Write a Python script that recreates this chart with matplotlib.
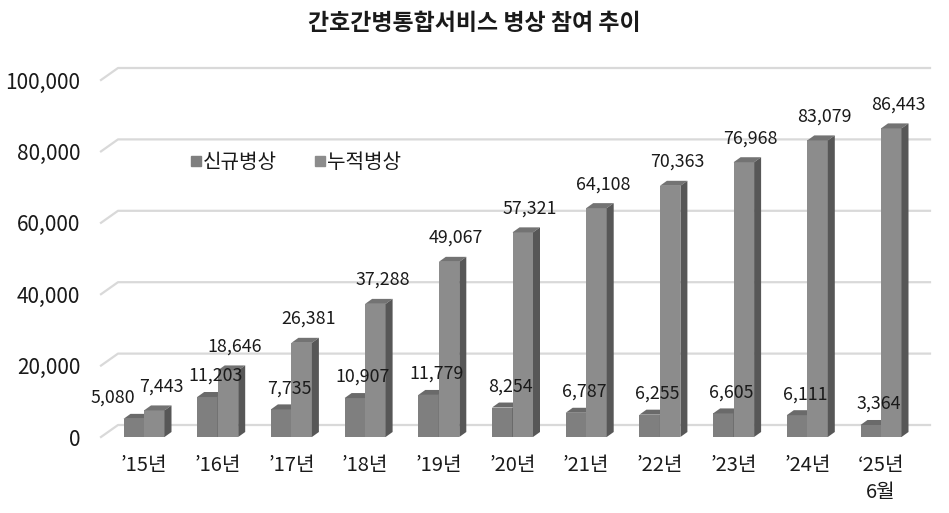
import matplotlib
matplotlib.use("Agg")
import matplotlib.pyplot as plt
from matplotlib.patches import Polygon
from matplotlib.lines import Line2D

# ---------------- data ----------------
categories = ["’15년", "’16년", "’17년", "’18년", "’19년", "’20년",
              "’21년", "’22년", "’23년", "’24년", "‘25년\n6월"]
new_beds = [5080, 11203, 7735, 10907, 11779, 8254, 6787, 6255, 6605, 6111, 3364]
cum_beds = [7443, 18646, 26381, 37288, 49067, 57321, 64108, 70363, 76968, 83079, 86443]
series_names = ["신규병상", "누적병상"]
yticks = [0, 20000, 40000, 60000, 80000, 100000]
title = "간호간병통합서비스 병상 참여 추이"

# ---------------- style ----------------
FONT = ["Noto Sans CJK KR", "DejaVu Sans"]
plt.rcParams["font.family"] = FONT
TXT = "#1a1a1a"
front_cols = ["#7f7f7f", "#8c8c8c"]
top_cols = ["#6a6a6a", "#737373"]
side_col = "#575757"
grid_col = "#d9d9d9"

W, H = 949, 513
fig = plt.figure(figsize=(W / 100, H / 100), dpi=100)

# pixel layout of the front plane
px_left, px_right = 101, 913
px_top, px_bottom = 80, 437
step = 73.7          # px between categories
first_center = 144   # px of first category centre

ax = fig.add_axes([px_left / W, 1 - px_bottom / H,
                   (px_right - px_left) / W, (px_bottom - px_top) / H])
x0 = (px_left - first_center) / step
x1 = (px_right - first_center) / step
ax.set_xlim(x0, x1)
ax.set_ylim(0, yticks[-1])

ppx = step
ppy = (px_bottom - px_top) / yticks[-1]
def dx(p):
    return p / ppx
def dy(p):
    return p / ppy

# back-wall gridlines with diagonal at the left wall
wall_dx, wall_dy = 17, 12
for t in yticks:
    ax.add_line(Line2D([x0, x0 + dx(wall_dx), x1 + dx(wall_dx)],
                       [t, t + dy(wall_dy), t + dy(wall_dy)],
                       color=grid_col, lw=1.6, clip_on=False, zorder=0))

# 3D bars
bw = dx(20.5)
ddx, ddy = dx(7), dy(5)
xs = list(range(len(categories)))

for i in xs:
    for s, vals in enumerate([new_beds, cum_beds]):
        xc = i + (-0.5 if s == 0 else 0.5) * bw
        h = vals[i]
        xl, xr = xc - bw / 2, xc + bw / 2
        z = 2 + i * 2 + s
        ax.bar(xc, h, width=bw, color=front_cols[s], edgecolor="none", zorder=z)
        ax.add_patch(Polygon([(xl, h), (xr, h), (xr + ddx, h + ddy), (xl + ddx, h + ddy)],
                             closed=True, fc=top_cols[s], ec="none", zorder=z, clip_on=False))
        ax.add_patch(Polygon([(xr, 0), (xr + ddx, ddy), (xr + ddx, h + ddy), (xr, h)],
                             closed=True, fc=side_col, ec="none", zorder=z, clip_on=False))

# data labels
PT = 0.72  # points per pixel at 100 dpi
for i in xs:
    xn = i - 0.5 * bw
    xc = i + 0.5 * bw
    nudge = -21 if i == 0 else 8
    ax.annotate(f"{new_beds[i]:,}", xy=(xn, new_beds[i]),
                xytext=(nudge * PT, 21 * PT), textcoords="offset points",
                ha="center", va="center", fontsize=12.8, color=TXT, zorder=50)
    ax.annotate(f"{cum_beds[i]:,}", xy=(xc, cum_beds[i]),
                xytext=(7 * PT, 24 * PT), textcoords="offset points",
                ha="center", va="center", fontsize=12.8, color=TXT, zorder=50)

# axes / ticks
for sp in ax.spines.values():
    sp.set_visible(False)
ax.set_yticks(yticks)
ax.set_yticklabels([f"{t:,}" for t in yticks])
ax.set_xticks(xs)
ax.set_xticklabels(categories)
ax.tick_params(axis="y", length=0, pad=15, labelsize=15, labelcolor=TXT)
ax.tick_params(axis="x", length=0, pad=13, labelsize=14.5, labelcolor=TXT)
for lab in ax.get_xticklabels():
    lab.set_linespacing(1.4)

# legend
handles = [Line2D([], [], marker="s", ls="none", color=front_cols[k], markersize=6.5)
           for k in range(2)]
ax.legend(handles, series_names, loc="center left", bbox_to_anchor=(0.088, 0.77),
          ncol=2, frameon=False, handlelength=0.5, handletextpad=0.1,
          columnspacing=1.9, fontsize=14.5, labelcolor=TXT)

fig.text(0.5, 1 - 24 / H, title, ha="center", va="center",
         fontsize=16.5, fontweight="bold", color=TXT)

fig.savefig("out.png", dpi=100, facecolor="white")
